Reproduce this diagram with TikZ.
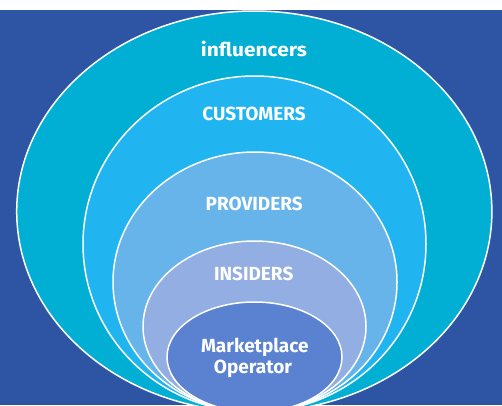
\documentclass[tikz,border=0pt]{standalone}
\usepackage{fontspec}
\setmainfont{Fira Sans}[BoldFont={Fira Sans Bold}]
\definecolor{bgblue}{HTML}{2E55A4}
\definecolor{cinfl}{HTML}{00AFD3}
\definecolor{ccust}{HTML}{20B5F0}
\definecolor{cprov}{HTML}{66B4EA}
\definecolor{cins}{HTML}{93AEE2}
\definecolor{cmkt}{HTML}{5A82D0}
\begin{document}
\begin{tikzpicture}[x=1pt,y=-1pt,
  ring/.style={draw=white,line width=1.5pt},
  lbl/.style={text=white,font=\bfseries\fontsize{19}{21}\selectfont,anchor=base,inner sep=0pt}]
\useasboundingbox (0,0) rectangle (502,405);
\fill[white] (0,0) rectangle (502,10);
\fill[bgblue] (0,10) rectangle (502,405);
\begin{scope}
\clip (0,10) rectangle (502,405);
\path[ring,fill=cinfl] (254.3,211.5) ellipse [x radius=237.6pt, y radius=200.5pt];
\path[ring,fill=ccust] (254.5,244) ellipse [x radius=171.5pt, y radius=168pt];
\path[ring,fill=cprov] (255,282) ellipse [x radius=142pt, y radius=130pt];
\path[ring,fill=cins] (254.5,326.5) ellipse [x radius=111.5pt, y radius=85.5pt];
\path[ring,fill=cmkt] (254.5,357) ellipse [x radius=87.5pt, y radius=55pt];
\end{scope}
\node[lbl,xscale=1.1] (infl) at (254,56.7) {influencers};
\node[lbl] (cust) at (254,120.7) {CUSTOMERS};
\node[lbl] (prov) at (254.2,210.7) {PROVIDERS};
\node[lbl] (ins) at (253.7,280) {INSIDERS};
\node[lbl] (mkt) at (254.8,352.3) {Marketplace};
\node[lbl] (op) at (253,373.3) {Operator};
\end{tikzpicture}
\end{document}
